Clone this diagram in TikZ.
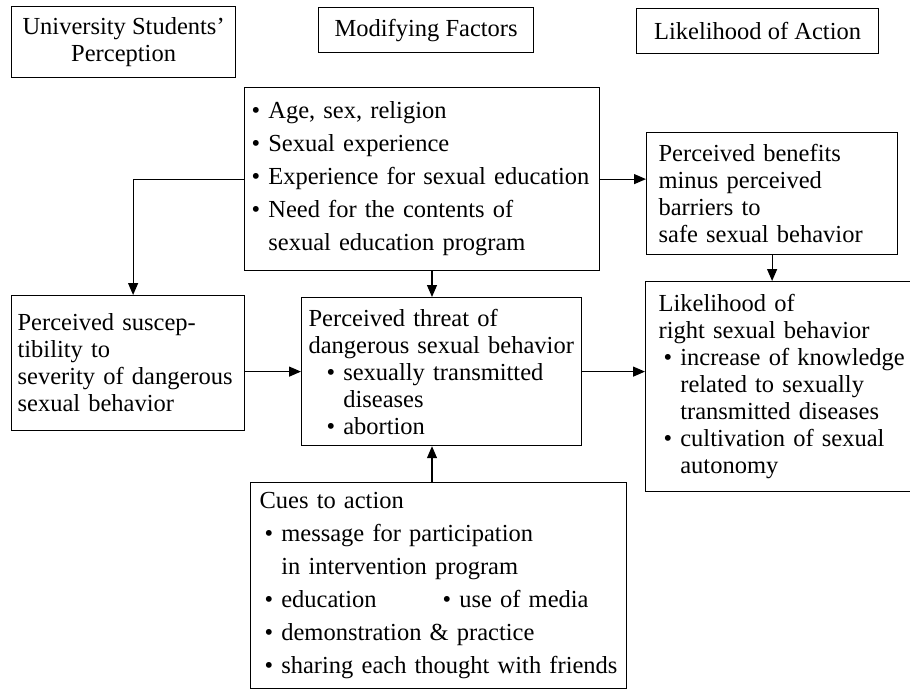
\documentclass[tikz,border=0pt]{standalone}
\usepackage{fontspec}
\setmainfont{Liberation Serif}
\usetikzlibrary{arrows.meta,positioning}
\newcommand\bodysize{\fontsize{24.5}{27}\selectfont}
\newcommand\listsize{\fontsize{24.5}{33}\selectfont}
\newcommand\itembul{\textbullet\ }
\newcommand\itemgap{\hphantom{\textbullet\ }}
\tikzset{headbox/.style={draw, line width=1.2pt, anchor=north west, align=center, inner sep=0pt, font=\bodysize}}
\tikzset{infobox/.style={draw, line width=1.2pt, anchor=north west, align=left, inner ysep=0pt, font=\bodysize}}
\tikzset{arrow/.style={line width=1.2pt, -{Triangle[length=12pt,width=10pt]}}}

\begin{document}
\begin{tikzpicture}[x=1pt,y=-1pt]
\clip (0,0) rectangle (910,691);
\node[headbox, minimum width=224pt, minimum height=71pt] (percep) at (11,6) {University Students'\\Perception};
\node[headbox, minimum width=215pt, minimum height=45pt] (modif) at (318,7) {Modifying Factors};
\node[headbox, minimum width=242pt, minimum height=45pt] (action) at (636,8) {Likelihood of Action};

\node[infobox, font=\listsize, inner xsep=7pt, text width=341pt, minimum height=183pt] (factors) at (244,87) {\itembul Age, sex, religion\\
\itembul Sexual experience\\
\itembul Experience for sexual education\\
\itembul Need for the contents of\\
\itemgap sexual education program};
\node[infobox, inner xsep=12pt, text width=227pt, minimum height=122pt] (benefit) at (646,132) {Perceived benefits\\
minus perceived\\
barriers to\\
safe sexual behavior};
\node[infobox, inner xsep=6pt, text width=221pt, minimum height=135pt] (suscept) at (11,295) {Perceived suscep-\\
tibility to\\
severity of dangerous\\
sexual behavior};
\node[infobox, inner xsep=7pt, text width=266pt, minimum height=148pt] (threat) at (301,297) {Perceived threat of\\
dangerous sexual behavior\\
\hspace*{18pt}\itembul sexually transmitted\\
\hspace*{18pt}\itemgap diseases\\
\hspace*{18pt}\itembul abortion};
\node[infobox, inner xsep=13pt, text width=249pt, minimum height=210pt] (likely) at (645,281) {Likelihood of\\
right sexual behavior\\
\hspace*{5pt}\itembul increase of knowledge\\
\hspace*{5pt}\itemgap related to sexually\\
\hspace*{5pt}\itemgap transmitted diseases\\
\hspace*{5pt}\itembul cultivation of sexual\\
\hspace*{5pt}\itemgap autonomy};
\node[infobox, font=\listsize, inner xsep=9pt, text width=358pt, minimum height=206pt] (cues) at (250,482) {Cues to action\\
\hspace*{5pt}\itembul message for participation\\
\hspace*{5pt}\itemgap in intervention program\\
\hspace*{5pt}\makebox[178pt][l]{\itembul education}\itembul use of media\\
\hspace*{5pt}\itembul demonstration \& practice\\
\hspace*{5pt}\itembul sharing each thought with friends};

\coordinate (midx) at (432,0);
\draw[arrow] (factors.west) -| ([xshift=5pt]suscept.north);
\draw[arrow] (factors.east) -- (factors.east -| benefit.west);
\draw[arrow] (benefit.south) -- (benefit.south |- likely.north);
\draw[arrow] (factors.south -| midx) -- (threat.north -| midx);
\draw[arrow] (suscept.east |- threat.west) -- (threat.west);
\draw[arrow] (threat.east) -- (threat.east -| likely.west);
\draw[arrow] (cues.north -| midx) -- (threat.south -| midx);
\end{tikzpicture}
\end{document}
